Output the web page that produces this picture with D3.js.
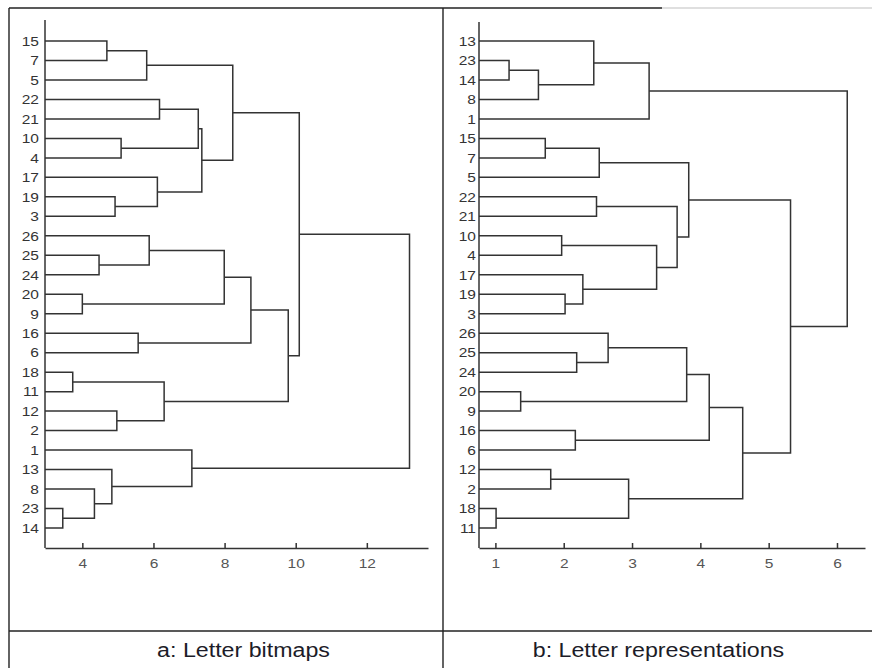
<!DOCTYPE html>
<html>
<head>
<meta charset="utf-8">
<script src="https://cdn.jsdelivr.net/npm/d3@7"></script>
<style>
  body { margin: 0; background: #fff; }
  svg { display: block; }
</style>
</head>
<body>
<svg width="872" height="668"></svg>
<script>
// leaf order (top to bottom) for each dendrogram
let leavesA = [15, 7, 5, 22, 21, 10, 4, 17, 19, 3, 26, 25, 24, 20, 9, 16, 6, 18, 11, 12, 2, 1, 13, 8, 23, 14];
let leavesB = [13, 23, 14, 8, 1, 15, 7, 5, 22, 21, 10, 4, 17, 19, 3, 26, 25, 24, 20, 9, 16, 6, 12, 2, 18, 11];

// merges: [child, child, height]; a number is a leaf, "cN" is merge N
let mergesA = [
  [15, 7, 4.69], [ "c0", 5, 5.81], [22, 21, 6.17], [10, 4, 5.09], ["c2", "c3", 7.26],
  [19, 3, 4.92], [17, "c5", 6.11], ["c4", "c6", 7.36], ["c1", "c7", 8.23],
  [25, 24, 4.47], [26, "c9", 5.88], [20, 9, 4.00], ["c10", "c11", 7.99],
  [16, 6, 5.57], ["c12", "c13", 8.74], [18, 11, 3.73], [12, 2, 4.97],
  ["c15", "c16", 6.30], ["c14", "c17", 9.79], ["c8", "c18", 10.1],
  [23, 14, 3.45], [8, "c20", 4.34], [13, "c21", 4.83], [1, "c22", 7.08],
  ["c19", "c23", 13.2]
];
let mergesB = [
  [23, 14, 1.20], ["c0", 8, 1.63], [13, "c1", 2.44], ["c2", 1, 3.25],
  [15, 7, 1.73], ["c4", 5, 2.52], [22, 21, 2.48], [10, 4, 1.97], [19, 3, 2.02],
  [17, "c8", 2.28], ["c7", "c9", 3.36], ["c6", "c10", 3.66], ["c5", "c11", 3.83],
  [25, 24, 2.19], [26, "c13", 2.65], [20, 9, 1.37], ["c14", "c15", 3.80],
  [16, 6, 2.17], ["c16", "c17", 4.13], [12, 2, 1.81], [18, 11, 1.01],
  ["c19", "c20", 2.95], ["c18", "c21", 4.62], ["c12", "c22", 5.32],
  ["c3", "c23", 6.15]
];

let ticksA = [4, 6, 8, 10, 12];
let ticksB = [1, 2, 3, 4, 5, 6];
let captions = ["a: Letter bitmaps", "b: Letter representations"];

let svg = d3.select("svg");
let stretch = "scale(1.15,1)";
let font = "Liberation Sans, Arial, sans-serif";

// table frame
let frame = svg.append("g").attr("stroke", "#222").attr("stroke-width", 1.4);
frame.append("line").attr("x1", 9).attr("y1", 8).attr("x2", 662).attr("y2", 8);
frame.append("line").attr("x1", 662).attr("y1", 8).attr("x2", 872).attr("y2", 8).attr("stroke", "#d4d4d4");
frame.append("line").attr("x1", 9).attr("y1", 8).attr("x2", 9).attr("y2", 668);
frame.append("line").attr("x1", 443).attr("y1", 8).attr("x2", 443).attr("y2", 668);
frame.append("line").attr("x1", 9).attr("y1", 631).attr("x2", 872).attr("y2", 631);

let drawDendro = function (leaves, merges, domain, xRange, ticks, axisTop, labelGap) {
  let y = d3.scalePoint().domain(leaves).range([41, 528]);
  let x = d3.scaleLinear().domain(domain).range(xRange);
  let g = svg.append("g");

  let pos = function (ref, nodes) {
    if (typeof ref === "number") return { x: x(domain[0]), y: y(ref) };
    return nodes[+ref.slice(1)];
  };

  let nodes = [];
  let links = [];
  merges.forEach(function (m) {
    let a = pos(m[0], nodes), b = pos(m[1], nodes);
    let hx = x(m[2]);
    nodes.push({ x: hx, y: (a.y + b.y) / 2 });
    links.push({ a: a, b: b, hx: hx });
  });

  g.selectAll(".link")
    .data(links)
    .join("path")
    .attr("class", "link")
    .attr("d", d => `M${d.a.x},${d.a.y}H${d.hx}V${d.b.y}H${d.b.x}`)
    .attr("fill", "none")
    .attr("stroke", "#333")
    .attr("stroke-width", 1.5);

  // y axis line
  g.append("line")
    .attr("x1", xRange[0]).attr("x2", xRange[0])
    .attr("y1", axisTop).attr("y2", 548)
    .attr("stroke", "#333").attr("stroke-width", 1.5);

  // leaf labels
  g.selectAll(".leaf")
    .data(leaves)
    .join("text")
    .attr("class", "leaf")
    .attr("transform", d => `translate(${xRange[0] - labelGap},${y(d) + 4.8}) ${stretch}`)
    .attr("text-anchor", "end")
    .attr("font-family", font)
    .attr("font-size", 13.5)
    .attr("fill", "#333")
    .text(d => d);

  // x axis
  let ax = g.append("g")
    .attr("transform", "translate(0,548)")
    .call(d3.axisBottom(x).tickValues(ticks).tickFormat(d3.format("d"))
      .tickSizeInner(-5).tickSizeOuter(0).tickPadding(10));
  ax.select(".domain").attr("stroke", "#333").attr("stroke-width", 1.5);
  ax.selectAll(".tick line").attr("stroke", "#333").attr("stroke-width", 1.5);
  ax.selectAll(".tick text")
    .attr("font-family", font)
    .attr("font-size", 13.5)
    .attr("fill", "#555")
    .attr("transform", stretch);
};

drawDendro(leavesA, mergesA, [2.95, 13.72], [45, 428], ticksA, 20, 6);
drawDendro(leavesB, mergesB, [0.76, 6.41], [479, 865], ticksB, 22, 3);

svg.selectAll(".caption")
  .data(captions)
  .join("text")
  .attr("class", "caption")
  .attr("transform", (d, i) => `translate(${[243.5, 658.5][i]},657) scale(1.19,1)`)
  .attr("text-anchor", "middle")
  .attr("font-family", font)
  .attr("font-size", 19.5)
  .attr("fill", "#1c1c28")
  .text(d => d);
</script>
</body>
</html>
